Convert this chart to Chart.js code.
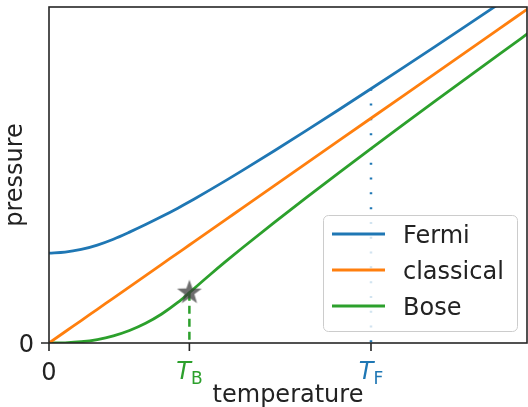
<!DOCTYPE html>
<html>
<head>
<meta charset="utf-8">
<script src="https://cdn.jsdelivr.net/npm/chart.js"></script>
<style>
  html, body { margin: 0; padding: 0; background: #fff; }
  #wrap { width: 528px; height: 407px; }
</style>
</head>
<body>
<div id="wrap"><canvas id="grafico" width="528" height="407"></canvas></div>
<script>
// Presión de gases ideales (unidades n k T_F) frente a la temperatura (unidades T_F)
const temperaturas = [0, 0.05, 0.1, 0.15, 0.2, 0.25, 0.3, 0.35, 0.4, 0.436, 0.45, 0.5, 0.55, 0.6, 0.7, 0.8, 0.9, 1.0, 1.1, 1.2, 1.3, 1.4, 1.5];
const fermi = [0.4000, 0.4041, 0.4162, 0.4358, 0.4619, 0.4933, 0.5270, 0.5625, 0.6000, 0.6283, 0.6397, 0.6812, 0.7235, 0.7668, 0.8553, 0.9459, 1.0379, 1.1312, 1.2253, 1.3201, 1.4156, 1.5115, 1.6078];
const clasico = [0, 0.05, 0.1, 0.15, 0.2, 0.25, 0.3, 0.35, 0.4, 0.436, 0.45, 0.5, 0.55, 0.6, 0.7, 0.8, 0.9, 1.0, 1.1, 1.2, 1.3, 1.4, 1.5];
const bose = [0, 0.0010, 0.0056, 0.0155, 0.0319, 0.0557, 0.0878, 0.1291, 0.1803, 0.2239, 0.2417, 0.3039, 0.3641, 0.4228, 0.5371, 0.6483, 0.7574, 0.8651, 0.9716, 1.0773, 1.1822, 1.2866, 1.3906];

// Temperaturas características y presiones en ellas
const tempB = 0.436, presionB = 0.2239;
const tempF = 1.0, presionF = 1.1312;

// Marcas de los ejes
const xTicks = [0, tempB, tempF];
const xTickLabels = ['0', 'T_B', 'T_F'];
const yTicks = [0];
const yTickLabels = ['0'];

const etiquetas = ['Fermi', 'classical', 'Bose'];
const colores = ['#1f77b4', '#ff7f0e', '#2ca02c'];
const FUENTE = '"DejaVu Sans", sans-serif';

function serie(xs, ys) {
    return xs.map((x, i) => ({ x: x, y: ys[i] }));
}

// Estrella rellena para marcar T_B
function crearEstrella(r) {
    const c = document.createElement('canvas');
    c.width = c.height = 2 * r + 2;
    const g = c.getContext('2d');
    g.translate(r + 1, r + 1);
    g.beginPath();
    for (let i = 0; i < 10; i++) {
        const rad = i % 2 === 0 ? r : r * 0.4;
        const ang = -Math.PI / 2 + i * Math.PI / 5;
        g.lineTo(rad * Math.cos(ang), rad * Math.sin(ang));
    }
    g.closePath();
    g.fillStyle = 'rgba(60, 60, 60, 0.75)';
    g.fill();
    return c;
}

// Marco, marcas, etiquetas y leyenda estilo matplotlib
const marco = {
    id: 'marco',
    afterDatasetsDraw(chart) {
        const { ctx, chartArea: a, scales: { x, y } } = chart;
        ctx.save();
        ctx.strokeStyle = '#262626';
        ctx.lineWidth = 1.6;
        ctx.strokeRect(a.left, a.top, a.right - a.left, a.bottom - a.top);

        ctx.beginPath();
        xTicks.forEach(v => {
            const px = x.getPixelForValue(v);
            ctx.moveTo(px, a.bottom);
            ctx.lineTo(px, a.bottom + 8);
        });
        yTicks.forEach(v => {
            const py = y.getPixelForValue(v);
            ctx.moveTo(a.left, py);
            ctx.lineTo(a.left - 8, py);
        });
        ctx.stroke();

        // etiquetas del eje x
        const coloresTick = ['#222', colores[2], colores[0]];
        xTicks.forEach((v, i) => {
            const px = x.getPixelForValue(v);
            const partes = xTickLabels[i].split('_');
            ctx.fillStyle = coloresTick[i];
            ctx.textBaseline = 'alphabetic';
            if (partes.length === 1) {
                ctx.font = '24px ' + FUENTE;
                ctx.textAlign = 'center';
                ctx.fillText(partes[0], px, a.bottom + 37);
            } else {
                ctx.textAlign = 'left';
                ctx.font = 'italic 24px ' + FUENTE;
                const w1 = ctx.measureText(partes[0]).width;
                ctx.font = '17px ' + FUENTE;
                const w2 = ctx.measureText(partes[1]).width;
                const x0 = px - (w1 + w2) / 2;
                ctx.font = 'italic 24px ' + FUENTE;
                ctx.fillText(partes[0], x0, a.bottom + 36);
                ctx.font = '17px ' + FUENTE;
                ctx.fillText(partes[1], x0 + w1, a.bottom + 41);
            }
        });

        // etiquetas del eje y
        ctx.fillStyle = '#222';
        ctx.font = '24px ' + FUENTE;
        ctx.textAlign = 'right';
        yTicks.forEach((v, i) => {
            ctx.fillText(yTickLabels[i], a.left - 15, y.getPixelForValue(v) + 9);
        });

        // títulos de los ejes
        ctx.textAlign = 'center';
        ctx.fillText('temperature', (a.left + a.right) / 2, a.bottom + 59);
        ctx.save();
        ctx.translate(22, (a.top + a.bottom) / 2);
        ctx.rotate(-Math.PI / 2);
        ctx.fillText('pressure', 0, 0);
        ctx.restore();

        // leyenda
        const lx = 323, ly = 215, lw = 194, lh = 116;
        ctx.beginPath();
        ctx.roundRect(lx + 0.5, ly + 0.5, lw, lh, 5);
        ctx.fillStyle = 'rgba(255, 255, 255, 0.8)';
        ctx.fill();
        ctx.strokeStyle = '#cccccc';
        ctx.lineWidth = 1;
        ctx.stroke();
        ctx.textAlign = 'left';
        ctx.font = '24px ' + FUENTE;
        etiquetas.forEach((txt, i) => {
            const fy = ly + 19 + i * 36;
            ctx.strokeStyle = colores[i];
            ctx.lineWidth = 2.8;
            ctx.beginPath();
            ctx.moveTo(lx + 9, fy);
            ctx.lineTo(lx + 62, fy);
            ctx.stroke();
            ctx.fillStyle = '#222';
            ctx.fillText(txt, lx + 80, fy + 8.5);
        });
        ctx.restore();
    }
};

function crearGrafico() {
    const ctx = document.getElementById('grafico').getContext('2d');
    const linea = (label, datos, color, orden) => ({
        label: label,
        data: serie(temperaturas, datos),
        borderColor: color,
        borderWidth: 2.8,
        pointRadius: 0,
        cubicInterpolationMode: 'monotone',
        clip: 0,
        order: orden
    });
    return new Chart(ctx, {
        type: 'line',
        data: {
            datasets: [
                {
                    label: 'estrella',
                    data: [{ x: tempB, y: presionB }],
                    pointStyle: crearEstrella(13),
                    pointRadius: 13,
                    showLine: false,
                    clip: false,
                    order: 0
                },
                linea(etiquetas[0], fermi, colores[0], 1),
                linea(etiquetas[1], clasico, colores[1], 2),
                linea(etiquetas[2], bose, colores[2], 3),
                {
                    label: 'TB',
                    data: [{ x: tempB, y: presionB }, { x: tempB, y: 0 }],
                    borderColor: colores[2],
                    borderWidth: 2.5,
                    borderDash: [8, 5],
                    pointRadius: 0,
                    order: 5
                },
                {
                    label: 'TF',
                    data: [{ x: tempF, y: presionF }, { x: tempF, y: 0 }],
                    borderColor: colores[0],
                    borderWidth: 2.5,
                    borderDash: [2, 12.8],
                    pointRadius: 0,
                    order: 6
                }
            ]
        },
        options: {
            responsive: false,
            animation: false,
            layout: { autoPadding: false, padding: { left: 49, right: 1, top: 7, bottom: 64 } },
            scales: {
                x: { type: 'linear', min: 0, max: 1.4845, display: false },
                y: { type: 'linear', min: 0, max: 1.495, display: false }
            },
            plugins: {
                legend: { display: false },
                tooltip: { enabled: false }
            }
        },
        plugins: [marco]
    });
}

document.addEventListener('DOMContentLoaded', crearGrafico);
</script>
</body>
</html>
